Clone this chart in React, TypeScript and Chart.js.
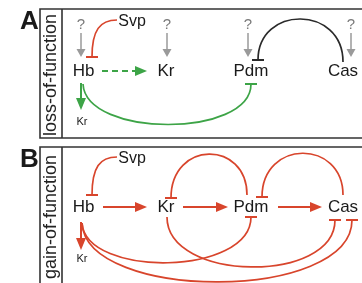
import { useEffect, useRef } from "react";
import { Chart, registerables } from "chart.js";

Chart.register(...registerables);

// ---- data (diagram coordinates in axis units: x 0..362, y 0..283 top-down) ----
const panelLetters = ["A", "B"];
const panelTitles = ["loss-of-function", "gain-of-function"];
const panelTop = [9, 147];
const panelBottom = [138, 300];
const nodeLabels = ["Hb", "Kr", "Pdm", "Cas"];
const nodeX = [83.5, 166, 251, 343];
const rowY = [71, 207];
const svpX = 132;
const svpY = [22, 159];
const questionX = [81, 167, 248, 351];
const smallKrY = [122, 259];

const RED = "#d8452c";
const GREEN = "#3da447";
const GRAY = "#9a9a9a";
const DARK = "#333333";

type Pt = [number, number];
type Edge = { pts: Pt[]; color: string; tbar: "start" | "end" };
const curvesA: Edge[] = [
  { pts: [[117, 20], [100, 20], [92, 30], [92, 57]], color: RED, tbar: "end" },
  { pts: [[343, 62], [343, 5], [258, 5], [258, 60]], color: "#2a2a2a", tbar: "end" },
  { pts: [[83, 84], [86, 138], [251, 138], [251, 84]], color: GREEN, tbar: "end" },
];
const curvesB: Edge[] = [
  { pts: [[117, 157], [100, 157], [92, 167], [92, 195]], color: RED, tbar: "end" },
  { pts: [[247, 195], [247, 140], [171, 140], [171, 198]], color: RED, tbar: "end" },
  { pts: [[343, 195], [343, 139], [262, 139], [262, 197]], color: RED, tbar: "end" },
  { pts: [[82, 223], [86, 278], [251, 276], [251, 217]], color: RED, tbar: "end" },
  { pts: [[167, 217], [167, 282], [335, 284], [335, 220]], color: RED, tbar: "end" },
  { pts: [[82, 223], [86, 302], [352, 302], [352, 220]], color: RED, tbar: "end" },
];
const arrowsA: { seg: number[]; color: string; dashed: boolean }[] = [
  { seg: [102, 71, 147, 71], color: GREEN, dashed: true },
  { seg: [81, 83, 81, 110], color: GREEN, dashed: false },
];
const arrowsB: { seg: number[]; color: string; dashed: boolean }[] = [
  { seg: [103, 207, 147, 207], color: RED, dashed: false },
  { seg: [183, 207, 228, 207], color: RED, dashed: false },
  { seg: [278, 207, 322, 207], color: RED, dashed: false },
  { seg: [81, 222, 81, 250], color: RED, dashed: false },
];

const netPlugin = {
  id: "net",
  afterDatasetsDraw(chart: any) {
    const ctx: CanvasRenderingContext2D = chart.ctx;
    const xs = chart.scales.x;
    const ys = chart.scales.y;
    const px = (v: number) => xs.getPixelForValue(v);
    const py = (v: number) => ys.getPixelForValue(v);
    const FONT = "'Liberation Sans', Arial, sans-serif";

    ctx.save();
    ctx.strokeStyle = DARK;
    ctx.lineWidth = 1.6;
    for (let i = 0; i < 2; i++) {
      ctx.strokeStyle = DARK;
      ctx.lineWidth = 1.6;
      ctx.beginPath();
      ctx.rect(px(40), py(panelTop[i]), px(364) - px(40), py(panelBottom[i]) - py(panelTop[i]));
      ctx.moveTo(px(62), py(panelTop[i]));
      ctx.lineTo(px(62), py(panelBottom[i]));
      ctx.stroke();
      ctx.fillStyle = "#1a1a1a";
      ctx.font = `bold 26px ${FONT}`;
      ctx.textAlign = "center";
      ctx.textBaseline = "alphabetic";
      ctx.fillText(panelLetters[i], px(29.5), py(panelTop[i] + 20));
      ctx.save();
      ctx.translate(px(51.5), py(i === 0 ? 75 : 217));
      ctx.rotate(-Math.PI / 2);
      ctx.font = `18px ${FONT}`;
      ctx.textBaseline = "middle";
      ctx.fillStyle = "#222";
      ctx.fillText(panelTitles[i], 0, 0);
      ctx.restore();
    }

    const arrowHead = (x0: number, y0: number, x1: number, y1: number, color: string, len = 12, hw = 5) => {
      const a = Math.atan2(y1 - y0, x1 - x0);
      ctx.fillStyle = color;
      ctx.beginPath();
      ctx.moveTo(x1, y1);
      ctx.lineTo(x1 - len * Math.cos(a) + hw * Math.sin(a), y1 - len * Math.sin(a) - hw * Math.cos(a));
      ctx.lineTo(x1 - len * Math.cos(a) - hw * Math.sin(a), y1 - len * Math.sin(a) + hw * Math.cos(a));
      ctx.closePath();
      ctx.fill();
    };
    const straight = (s: number[], color: string, dashed: boolean, lw = 2, len = 12, hw = 5) => {
      const x0 = px(s[0]), y0 = py(s[1]), x1 = px(s[2]), y1 = py(s[3]);
      const a = Math.atan2(y1 - y0, x1 - x0);
      ctx.strokeStyle = color;
      ctx.lineWidth = lw;
      ctx.setLineDash(dashed ? [6, 4] : []);
      ctx.beginPath();
      ctx.moveTo(x0, y0);
      ctx.lineTo(x1 - (len - 1) * Math.cos(a), y1 - (len - 1) * Math.sin(a));
      ctx.stroke();
      ctx.setLineDash([]);
      arrowHead(x0, y0, x1, y1, color, len, hw);
    };
    const curve = (e: Edge) => {
      const p = e.pts.map((q) => [px(q[0]), py(q[1])]);
      ctx.strokeStyle = e.color;
      ctx.lineWidth = 1.7;
      ctx.beginPath();
      ctx.moveTo(p[0][0], p[0][1]);
      ctx.bezierCurveTo(p[1][0], p[1][1], p[2][0], p[2][1], p[3][0], p[3][1]);
      ctx.stroke();
      const t = e.tbar === "end" ? p[3] : p[0];
      ctx.lineWidth = 2;
      ctx.beginPath();
      ctx.moveTo(t[0] - 6, t[1]);
      ctx.lineTo(t[0] + 6, t[1]);
      ctx.stroke();
    };

    ctx.font = `15px ${FONT}`;
    ctx.textAlign = "center";
    ctx.textBaseline = "middle";
    for (const qx of questionX) {
      ctx.font = `15px ${FONT}`;
      ctx.fillStyle = "#7a7a7a";
      ctx.fillText("?", px(qx), py(25));
      straight([qx, 33, qx, 57], GRAY, false, 1.5, 8, 4.5);
    }

    curvesA.forEach(curve);
    curvesB.forEach(curve);
    arrowsA.forEach((a) => straight(a.seg, a.color, a.dashed));
    arrowsB.forEach((a) => straight(a.seg, a.color, a.dashed));

    ctx.fillStyle = "#1a1a1a";
    ctx.textAlign = "center";
    ctx.textBaseline = "middle";
    for (let r = 0; r < 2; r++) {
      ctx.font = `17px ${FONT}`;
      nodeLabels.forEach((l, i) => ctx.fillText(l, px(nodeX[i]), py(rowY[r])));
      ctx.font = `16px ${FONT}`;
      ctx.fillText("Svp", px(svpX), py(svpY[r]));
      ctx.font = `11px ${FONT}`;
      ctx.fillText("Kr", px(82), py(smallKrY[r]));
    }
    ctx.restore();
  },
};

export default function App() {
  const ref = useRef<HTMLCanvasElement | null>(null);
  useEffect(() => {
    document.body.style.margin = "0";
    const points = nodeX.flatMap((x) => rowY.map((y) => ({ x, y })));
    const chart = new Chart(ref.current!, {
      type: "scatter",
      data: { datasets: [{ data: points, pointRadius: 0, pointHoverRadius: 0 }] },
      options: {
        animation: false,
        responsive: false,
        maintainAspectRatio: false,
        layout: { padding: 0 },
        plugins: { legend: { display: false }, tooltip: { enabled: false } },
        events: [],
        scales: {
          x: { type: "linear", min: 0, max: 362, display: false },
          y: { type: "linear", min: 0, max: 283, reverse: true, display: false },
        },
      },
      plugins: [netPlugin],
    });
    return () => chart.destroy();
  }, []);
  return (
    <div style={{ position: "fixed", left: 0, top: 0, width: 362, height: 283, background: "#fff" }}>
      <canvas ref={ref} width={362} height={283} style={{ display: "block" }} />
    </div>
  );
}
